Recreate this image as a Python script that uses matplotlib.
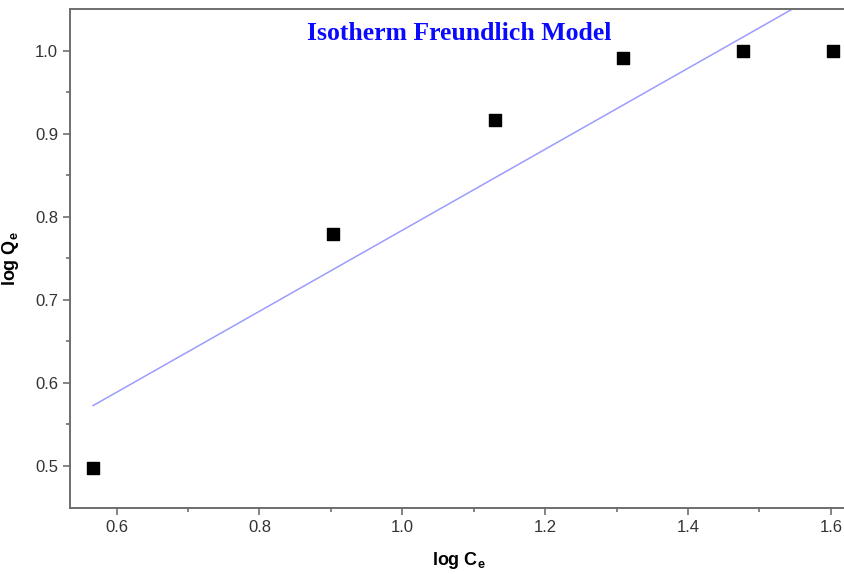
import numpy as np
import matplotlib
matplotlib.use('Agg')
import matplotlib.pyplot as plt

# Datos experimentales (log Ce, log Qe)
log_ce = [0.567, 0.903, 1.130, 1.309, 1.477, 1.603]
log_qe = [0.498, 0.779, 0.917, 0.991, 1.000, 1.000]

# Ajuste lineal del modelo de Freundlich
pendiente, ordenada = np.polyfit(log_ce, log_qe, 1)
x_ajuste = np.array([log_ce[0], log_ce[-1]])
y_ajuste = pendiente * x_ajuste + ordenada

plt.rcParams['font.family'] = ['Liberation Sans', 'DejaVu Sans']

fig = plt.figure(figsize=(8.45, 5.74), dpi=100)
ax = fig.add_axes([0.0828, 0.115, 0.9207, 0.8693])

ax.plot(x_ajuste, y_ajuste, color='#9c9cff', lw=1.1, zorder=2)
ax.scatter(log_ce, log_qe, marker='s', s=75, color='black', zorder=3)

ax.set_xlim(0.5347, 1.624)
ax.set_ylim(0.4494, 1.0502)
ax.set_xticks([0.6, 0.8, 1.0, 1.2, 1.4, 1.6])
ax.set_xticks([0.7, 0.9, 1.1, 1.3, 1.5], minor=True)
ax.set_yticks([0.5, 0.6, 0.7, 0.8, 0.9, 1.0])
ax.set_yticks([0.55, 0.65, 0.75, 0.85, 0.95], minor=True)

for lado in ax.spines.values():
    lado.set_color('#6e6e6e')
    lado.set_linewidth(1.4)

ax.tick_params(which='major', direction='out', length=5, width=1.2,
               color='#6e6e6e', labelsize=12, labelcolor='#333333')
ax.tick_params(which='minor', direction='out', length=3, width=1.2,
               color='#6e6e6e')

ax.set_xlabel('log C$_\\mathregular{e}$', fontsize=13, fontweight='bold', labelpad=11)
ax.set_ylabel('log Q$_\\mathregular{e}$', fontsize=13, fontweight='bold', labelpad=10)

ax.text(0.5, 0.951, 'Isotherm Freundlich Model', transform=ax.transAxes,
        ha='center', va='center', color='#0a0aff', fontsize=18.5,
        fontweight='bold', family=['Liberation Serif', 'DejaVu Serif'])

fig.savefig('out.png', dpi=100)
